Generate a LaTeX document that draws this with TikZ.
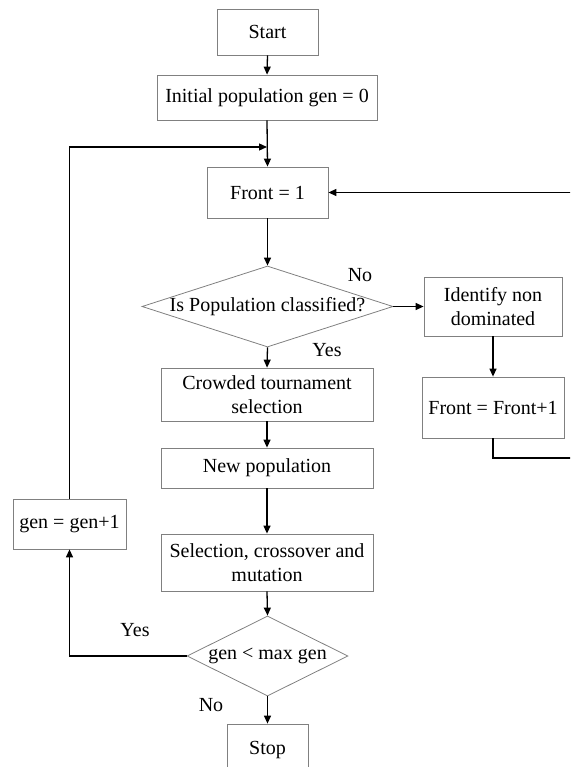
\documentclass[tikz,border=0pt]{standalone}
\usepackage{fontspec}
\setmainfont{Liberation Serif}
\usetikzlibrary{arrows.meta,shapes.geometric}
\definecolor{boxgray}{RGB}{128,128,128}
\begin{document}
\begin{tikzpicture}[x=1pt,y=-1pt,
  box/.style={draw=boxgray, line width=0.8pt, rectangle, inner sep=0pt, align=center, font=\fontsize{20}{23.5}\selectfont},
  dia/.style={draw=boxgray, line width=0.8pt, diamond, inner sep=0pt},
  txt/.style={inner sep=0pt, align=center, font=\fontsize{20}{23.5}\selectfont},
  lbl/.style={inner sep=0pt, font=\fontsize{20}{23.5}\selectfont},
  conn/.style={draw=black, line width=1.3pt, -{Triangle[length=8pt,width=7pt]}},
  plain/.style={draw=black, line width=1.3pt}]
\useasboundingbox (0,0) rectangle (570,767);
\clip (0,0) rectangle (570,767);
% nodes
\node[box, minimum width=101pt, minimum height=46pt] (start) at (267.5,32) {Start};
\node[box, minimum width=220pt, minimum height=45pt] (init) at (267,97.5) {Initial population gen = 0};
\node[box, minimum width=121pt, minimum height=51pt] (front) at (267.5,192.5) {Front = 1};
\node[dia, minimum width=251pt, minimum height=81pt] (d1) at (267.5,306.5) {};
\node[txt] (d1t) at (267.5,306.5) {Is Population classified?};
\node[box, minimum width=138pt, minimum height=59pt] (ident) at (493,306.5) {Identify non\\dominated};
\node[box, minimum width=142pt, minimum height=61pt] (fp1) at (493,407.5) {Front = Front+1};
\node[box, minimum width=212pt, minimum height=53pt] (crowd) at (267,394.5) {Crowded tournament\\selection};
\node[box, minimum width=212pt, minimum height=40pt] (newpop) at (267,468) {New population};
\node[box, minimum width=212pt, minimum height=57pt] (sel) at (267,562.5) {Selection, crossover and\\mutation};
\node[dia, minimum width=161pt, minimum height=80pt] (d2) at (267.5,656) {};
\node[txt] (d2t) at (267.5,656) {gen < max gen};
\node[box, minimum width=113pt, minimum height=50pt] (gen) at (69.5,524) {gen = gen+1};
\node[box, minimum width=81pt, minimum height=52pt] (stop) at (267.5,750) {Stop};
% labels
\node[lbl] (no1) at (360,275) {No};
\node[lbl] (yes1) at (327,350) {Yes};
\node[lbl] (yes2) at (135,630) {Yes};
\node[lbl] (no2) at (211,705) {No};
% helper coordinates
\coordinate (loopin) at (267,147);
\coordinate (rb) at (585,458);
\coordinate (rt) at (585,192.5);
% connectors
\draw[conn] (start.south) -- (init.north);
\draw[conn] (init.south) -- (front.north);
\draw[conn] (front.south) -- (d1.north);
\draw[conn] (d1.east) -- (ident.west);
\draw[conn] (ident.south) -- (fp1.north);
\draw[conn] (fp1.south) |- (rb) -- (rt) -- (front.east);
\draw[conn] (d1.south) -- (crowd.north);
\draw[conn] (crowd.south) -- (newpop.north);
\draw[conn] (newpop.south) -- (sel.north);
\draw[conn] (sel.south) -- (d2.north);
\draw[conn] (d2.south) -- (stop.north);
\draw[conn] (d2.west) -| (gen.south);
\draw[conn] (gen.north) |- (loopin);
\end{tikzpicture}
\end{document}
